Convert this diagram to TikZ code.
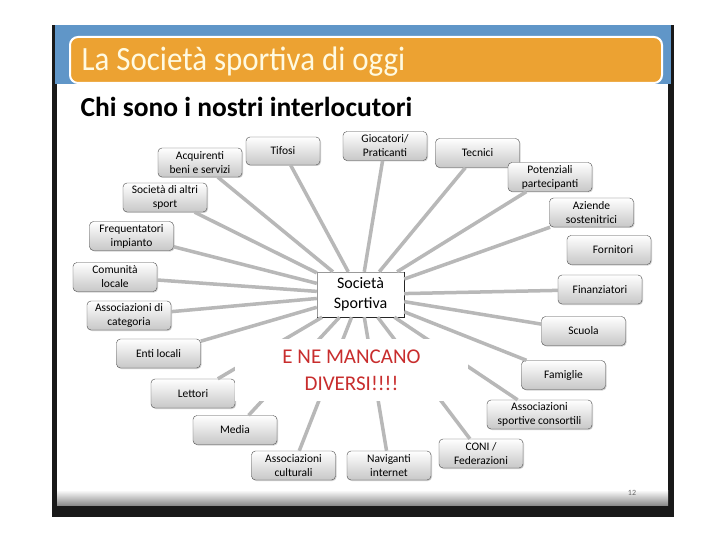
\documentclass[tikz,border=0pt]{standalone}
\usepackage{fontspec}
\setmainfont{Carlito}
\usetikzlibrary{shadows}
\definecolor{bandablu}{RGB}{96,150,200}
\definecolor{arancio}{RGB}{236,162,50}
\definecolor{crema}{RGB}{255,250,225}
\definecolor{rosso}{RGB}{200,45,45}
\tikzset{
    voce/.style={draw=black!70, rounded corners=4pt, top color=white, bottom color=black!22,
        minimum width=84pt, minimum height=29pt, inner sep=1pt, align=center,
        font=\fontsize{11.5}{14}\selectfont,
        drop shadow={opacity=0.35, shadow xshift=1pt, shadow yshift=-1pt}},
    legame/.style={draw=black!28, line width=3.5pt}
}

\begin{document}
\begin{tikzpicture}[x=1pt, y=-1pt]
    \useasboundingbox (0,0) rectangle (720,540);
    % Slide frame
    \fill[black!90] (52,25) rectangle (674,517);
    \fill[bandablu] (55,25) rectangle (671,84);
    \fill[white] (57,84) rectangle (668,505);
    \shade[top color=white, bottom color=black!45] (57,490) rectangle (668,505);
    \draw[white, line width=2pt, fill=arancio, rounded corners=8pt] (70,37) rectangle (662,83);
    \node[anchor=west, text=crema, font=\fontsize{34}{40}\selectfont] (titolo) at (78,62)
        {\scalebox{0.91}[1]{La Società sportiva di oggi}};
    \node[anchor=west, font=\bfseries\fontsize{27.5}{32}\selectfont] (sottotitolo) at (77,107)
        {Chi sono i nostri interlocutori};
    \node[text=black!60, font=\fontsize{8}{9}\selectfont] (pagina) at (632,493) {12};

    % Centre
    \node[draw=black!40, fill=white, minimum width=87pt, minimum height=45pt, align=center,
        font=\fontsize{16}{20}\selectfont] (hub) at (360.5,294.5) {Società\\Sportiva};
    \draw[black!85, line width=0.8pt] (hub.north east) -- (hub.south east) -- (hub.south west);

    % Interlocutors
    \node[voce] (acquirenti) at (200,162.5) {Acquirenti\\beni e servizi};
    \node[voce, minimum width=74pt, minimum height=28pt] (tifosi) at (283,151) {Tifosi};
    \node[voce] (giocatori) at (385,146) {Giocatori/\\Praticanti};
    \node[voce] (tecnici) at (477.5,153) {Tecnici};
    \node[voce] (potenziali) at (550,177) {Potenziali\\partecipanti};
    \node[voce] (aziende) at (591.5,212.5) {Aziende\\sostenitrici};
    \node[voce] (fornitori) at (609,250) {\hspace*{8pt}Fornitori};
    \node[voce] (finanziatori) at (600,289.5) {Finanziatori};
    \node[voce] (scuola) at (583.5,331) {Scuola};
    \node[voce] (famiglie) at (563.5,375) {Famiglie};
    \node[voce, minimum width=105pt] (consortili) at (539.5,414.5) {Associazioni\\sportive consortili};
    \node[voce] (coni) at (481,453.5) {CONI /\\Federazioni};
    \node[voce] (naviganti) at (389,465.5) {Naviganti\\internet};
    \node[voce] (culturali) at (293.5,465.5) {Associazioni\\culturali};
    \node[voce] (media) at (235,430) {Media};
    \node[voce] (lettori) at (193,393.5) {Lettori};
    \node[voce] (enti) at (158.5,353.5) {Enti locali};
    \node[voce] (categoria) at (129,315.5) {Associazioni di\\categoria};
    \node[voce] (comunita) at (115,277) {Comunità\\locale};
    \node[voce] (frequentatori) at (131.5,236) {Frequentatori\\impianto};
    \node[voce] (altrisport) at (165,197.5) {Società di altri\\sport};

    % Links to the centre
    \foreach \n in {acquirenti,tifosi,giocatori,tecnici,potenziali,aziende,finanziatori,
        scuola,famiglie,consortili,coni,naviganti,culturali,media,lettori,enti,categoria,
        comunita,frequentatori,altrisport}
        \draw[legame] (hub) -- (\n);

    \node[fill=white, text=rosso, align=center, minimum width=233pt, minimum height=62pt,
        font=\fontsize{21}{27}\selectfont] (mancano) at (351.5,370) {E NE MANCANO\\DIVERSI!!!!};
\end{tikzpicture}
\end{document}
